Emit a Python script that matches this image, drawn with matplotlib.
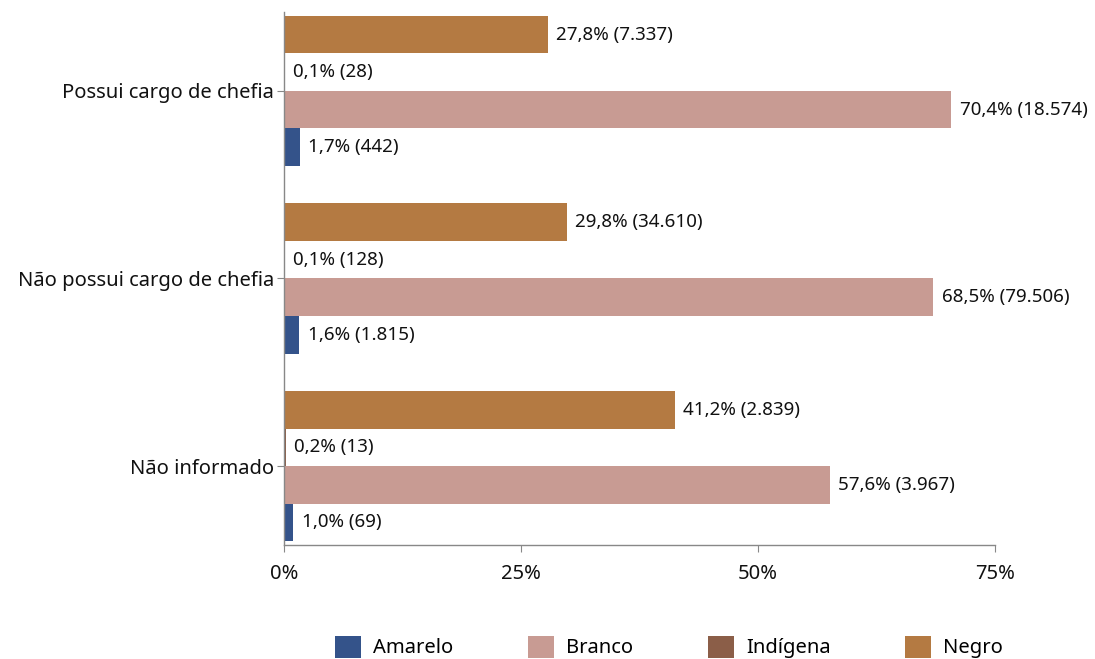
import matplotlib
matplotlib.use("Agg")
import matplotlib.pyplot as plt
from matplotlib.patches import Patch
import numpy as np

categories = ["Possui cargo de chefia", "Não possui cargo de chefia", "Não informado"]
series = ["Negro", "Indígena", "Branco", "Amarelo"]
pct = {
    "Negro":    [27.8, 29.8, 41.2],
    "Indígena": [0.1, 0.1, 0.2],
    "Branco":   [70.4, 68.5, 57.6],
    "Amarelo":  [1.7, 1.6, 1.0],
}
counts = {
    "Negro":    ["7.337", "34.610", "2.839"],
    "Indígena": ["28", "128", "13"],
    "Branco":   ["18.574", "79.506", "3.967"],
    "Amarelo":  ["442", "1.815", "69"],
}
colors = {
    "Amarelo": "#34538a",
    "Branco": "#c89b93",
    "Indígena": "#8b5e48",
    "Negro": "#b47a42",
}
legend_order = ["Amarelo", "Branco", "Indígena", "Negro"]
xticks = [0, 25, 50, 75]

plt.rcParams['font.family'] = ['Noto Sans', 'DejaVu Sans']
FS = 14.5
FS_LBL = 13.5

fig = plt.figure(figsize=(10.95, 6.59), dpi=100)
ax = fig.add_axes([284/1095, 1-545/659, (995-284)/1095, (545-12)/659])

h = 0.2
offsets = [-0.3, -0.1, 0.1, 0.3]
y = np.arange(len(categories))
for s, off in zip(series, offsets):
    vals = pct[s]
    ax.barh(y + off, vals, height=h, color=colors[s], edgecolor='none')
    for yi, v, c in zip(y, vals, counts[s]):
        lbl = f"{v:.1f}".replace('.', ',') + f"% ({c})"
        ax.annotate(lbl, (v, yi + off), xytext=(6, 0), textcoords='offset points',
                    va='center', ha='left', fontsize=FS_LBL, color='#111111')

ax.set_xlim(0, 75)
ax.set_ylim(2.42, -0.42)
ax.set_yticks(y)
ax.set_yticklabels(categories, fontsize=FS)
ax.set_xticks(xticks)
ax.set_xticklabels([f"{t}%" for t in xticks], fontsize=FS)
for sp in ['top', 'right']:
    ax.spines[sp].set_visible(False)
for sp in ['left', 'bottom']:
    ax.spines[sp].set_color('#888888')
    ax.spines[sp].set_linewidth(1)
ax.tick_params(axis='both', colors='#888888', length=5, labelcolor='#111111')
ax.tick_params(axis='x', pad=9)
ax.tick_params(axis='y', pad=2)

handles = [Patch(facecolor=colors[s], edgecolor='none') for s in legend_order]
fig.legend(handles, legend_order, loc='center', bbox_to_anchor=(0.611, 0.018),
           ncol=4, frameon=False, fontsize=FS, handlelength=1.3, handleheight=1.3,
           columnspacing=3.7, handletextpad=0.6)

fig.savefig("out.png", dpi=100)
